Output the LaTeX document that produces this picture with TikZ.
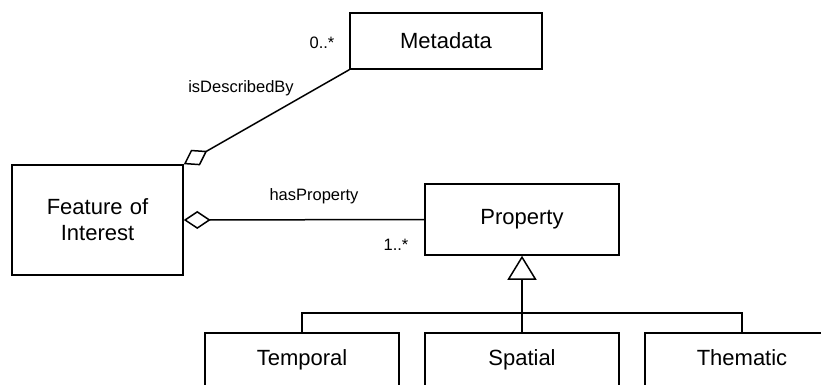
\documentclass[tikz,border=0pt]{standalone}
\usepackage{fontspec}
\setmainfont{Liberation Sans}
\usetikzlibrary{shapes,arrows.meta,positioning}
\tikzstyle{block} = [rectangle, draw, line width=1.5pt,
    text centered, font=\fontsize{22}{26}\selectfont, inner sep=0pt]
\tikzstyle{subblock} = [block, minimum width=194pt, minimum height=54pt,
    text height=16pt, text depth=5pt]
\tikzstyle{label} = [font=\fontsize{16.5}{20}\selectfont, inner sep=0pt]
\tikzstyle{line} = [draw, line width=1.5pt]
\tikzstyle{aggr} = [line, -{Diamond[open, length=27pt, width=18pt]}]
\tikzstyle{gen} = [line, -{Triangle[open, length=24pt, width=29pt]}]

\begin{document}
\begin{tikzpicture}[x=1pt, y=-1pt, node distance=220pt]
	    \useasboundingbox (0,0) rectangle (821,385);
	    \clip (0,0) rectangle (821,385);
	    % Place nodes
	    \node [block, minimum width=192pt, minimum height=56pt] (meta) at (446,41) {Metadata};
	    \node [block, minimum width=171pt, minimum height=110pt, text width=150pt] (foi) at (97.5,220) {Feature of\\Interest};
	    \node [block, minimum width=194pt, minimum height=71pt] (prop) at (522,219.5) {Property};
	    \node [subblock] (spatial) at (522,360) {Spatial};
	    \node [subblock, left of=spatial] (temporal) {Temporal};
	    \node [subblock, right of=spatial] (thematic) {Thematic};
	    \coordinate (split) at (522,313);
	    % Draw edges
	    \path [aggr] (meta.south west) -- (foi.north east);
	    \path [aggr] (prop.west) -- (foi.east);
	    \path [gen] (split) -- (prop.south);
	    \path [line] (temporal.north) |- (split) -| (thematic.north);
	    \path [line] (spatial.north) -- (split);
	    % Labels
	    \node [label] (descby) at (241,88) {isDescribedBy};
	    \node [label] (metamult) at (322,43) {0..*};
	    \node [label] (hasprop) at (314,196) {hasProperty};
	    \node [label] (propmult) at (396,245) {1..*};
\end{tikzpicture}
\end{document}
